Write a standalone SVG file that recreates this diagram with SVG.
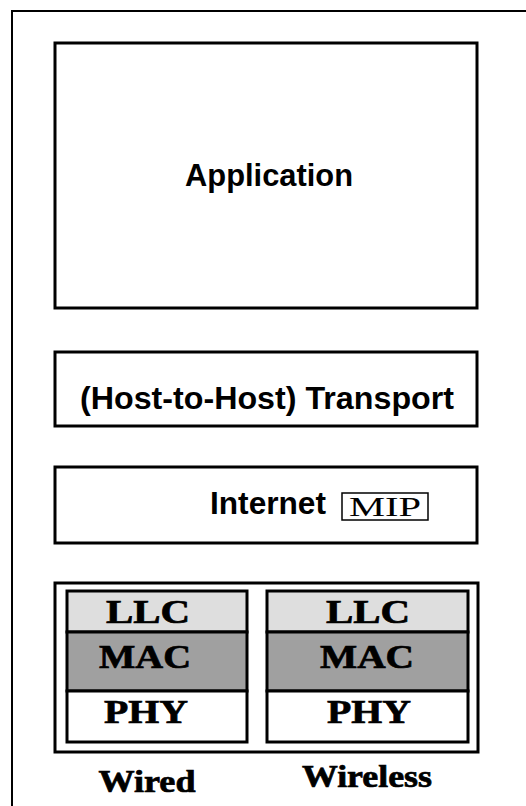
<svg xmlns="http://www.w3.org/2000/svg" width="526" height="806" viewBox="0 0 526 806">
  <style>
    .frame { fill: none; stroke: #000; stroke-width: 2; }
    .layer { fill: #fff; stroke: #000; stroke-width: 3; }
    .sans { font-family: "Liberation Sans", Arial, sans-serif; font-weight: bold; font-size: 31px; fill: #000; text-anchor: middle; }
    .serif { font-family: "Liberation Serif", "Times New Roman", serif; font-weight: bold; fill: #000; stroke: #000; stroke-width: 0.7px; text-anchor: middle; }
    .sub { font-size: 33px; }
    .cap { font-size: 31px; }
    .llc { fill: #dedede; stroke: #000; stroke-width: 3; }
    .mac { fill: #a0a0a0; stroke: #000; stroke-width: 3; }
    .phy { fill: #fff; stroke: #000; stroke-width: 3; }
  </style>

  <rect width="526" height="806" fill="#fff"/>

  <!-- outer frame: open on the right and bottom -->
  <path class="frame" d="M12 806 V11 H526"/>

  <g id="application">
    <rect class="layer" x="55" y="43" width="422" height="265"/>
    <text class="sans" x="269" y="186" textLength="168" lengthAdjust="spacingAndGlyphs">Application</text>
  </g>

  <g id="transport">
    <rect class="layer" x="55" y="352" width="422" height="74"/>
    <text class="sans" x="267" y="409" textLength="374" lengthAdjust="spacingAndGlyphs">(Host-to-Host) Transport</text>
  </g>

  <g id="internet">
    <rect class="layer" x="55" y="467" width="422" height="76"/>
    <text class="sans" x="268" y="514" textLength="116" lengthAdjust="spacingAndGlyphs">Internet</text>
    <g id="mip">
      <rect x="342" y="493" width="86" height="27" fill="none" stroke="#000" stroke-width="1.5"/>
      <text x="385" y="516" font-family="'Liberation Serif', 'Times New Roman', serif" font-size="27" text-anchor="middle" fill="#000" textLength="72" lengthAdjust="spacingAndGlyphs">MIP</text>
    </g>
  </g>

  <g id="link">
    <rect class="layer" x="55" y="583" width="423" height="169"/>

    <g id="wired">
      <rect class="llc" x="67" y="591" width="180" height="41"/>
      <rect class="mac" x="67" y="632" width="180" height="59"/>
      <rect class="phy" x="67" y="691" width="180" height="51"/>
      <text class="serif sub" x="148" y="623" textLength="84" lengthAdjust="spacingAndGlyphs">LLC</text>
      <text class="serif sub" x="145" y="668" textLength="92" lengthAdjust="spacingAndGlyphs">MAC</text>
      <text class="serif sub" x="146" y="723" textLength="84" lengthAdjust="spacingAndGlyphs">PHY</text>
      <text class="serif cap" x="147" y="792" textLength="97" lengthAdjust="spacingAndGlyphs">Wired</text>
    </g>

    <g id="wireless">
      <rect class="llc" x="267" y="591" width="201" height="41"/>
      <rect class="mac" x="267" y="632" width="201" height="59"/>
      <rect class="phy" x="267" y="691" width="201" height="51"/>
      <text class="serif sub" x="368" y="623" textLength="84" lengthAdjust="spacingAndGlyphs">LLC</text>
      <text class="serif sub" x="367" y="668" textLength="94" lengthAdjust="spacingAndGlyphs">MAC</text>
      <text class="serif sub" x="369" y="723" textLength="84" lengthAdjust="spacingAndGlyphs">PHY</text>
      <text class="serif cap" x="367" y="787" textLength="130" lengthAdjust="spacingAndGlyphs">Wireless</text>
    </g>
  </g>
</svg>
